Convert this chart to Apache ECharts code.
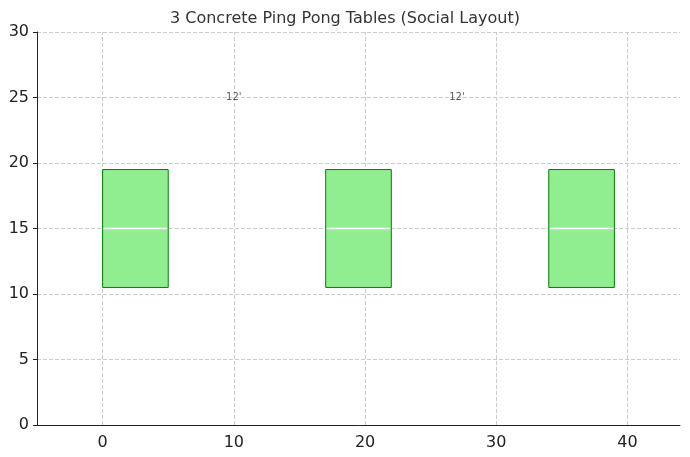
<!DOCTYPE html>
<html><head><meta charset="utf-8">
<script src="https://cdn.jsdelivr.net/npm/echarts@6/dist/echarts.min.js"></script>
<style>html,body{margin:0;padding:0;background:#fff}#c{width:690px;height:457px}</style>
</head><body><div id="c"></div>
<script>
const tableX = [0, 17, 34];
const tableWidth = 5;
const tableYMin = 10.5;
const tableYMax = 19.5;
const netY = 15;
const labels = ["12'", "12'"];
const labelX = [10, 27];
const labelY = [25, 25];
const xTicks = [0, 10, 20, 30, 40];

const chart = echarts.init(document.getElementById('c'));
const tableData = tableX.map(x => [x, x + tableWidth, tableYMin, tableYMax, netY]);
const font = 'DejaVu Sans';
chart.setOption({
  animation: false,
  title: {text: '3 Concrete Ping Pong Tables (Social Layout)', left: 'center', top: 6,
    textStyle: {fontFamily: font, fontSize: 16, fontWeight: 'normal', color: '#333'}},
  grid: {left: 37, right: 10, top: 32, bottom: 32},
  xAxis: {type: 'value', min: -5, max: 44, interval: 5,
    axisLine: {onZero: false, lineStyle: {color: '#222'}},
    axisTick: {show: false},
    axisLabel: {fontFamily: font, fontSize: 16, color: '#222', margin: 10,
      formatter: v => xTicks.includes(v) ? String(v) : ''},
    splitLine: {show: false}},
  yAxis: {type: 'value', min: 0, max: 30, interval: 5,
    axisLine: {show: true, onZero: false, lineStyle: {color: '#222'}},
    axisTick: {show: true, length: 4, lineStyle: {color: '#222'}},
    axisLabel: {fontFamily: font, fontSize: 16, color: '#222'},
    splitLine: {lineStyle: {type: 'dashed', color: '#ccc'}}},
  series: [
    {type: 'line', data: [], silent: true, z: 1,
     markLine: {symbol: 'none', silent: true, label: {show: false},
       lineStyle: {type: 'dashed', color: '#ccc', width: 1},
       data: xTicks.map(x => ({xAxis: x}))}},
    {type: 'line', data: [], silent: true, z: 1,
     markLine: {symbol: 'none', silent: true, label: {show: false},
       lineStyle: {type: 'solid', color: '#222', width: 1},
       data: xTicks.map(x => [{coord: [x, 0]}, {coord: [x, -0.3]}])}},
    {type: 'custom', data: tableData, z: 5,
     renderItem: (params, api) => {
       const p1 = api.coord([api.value(0), api.value(3)]);
       const p2 = api.coord([api.value(1), api.value(2)]);
       const n1 = api.coord([api.value(0), api.value(4)]);
       const n2 = api.coord([api.value(1), api.value(4)]);
       return {type: 'group', children: [
         {type: 'rect', shape: {x: p1[0], y: p1[1], width: p2[0]-p1[0], height: p2[1]-p1[1]},
          style: {fill: '#90ee90', stroke: '#008000', lineWidth: 1}},
         {type: 'line', shape: {x1: n1[0]+1, y1: n1[1], x2: n2[0]-1, y2: n2[1]},
          style: {stroke: '#fff', lineWidth: 1.5}}
       ]};
     }},
    {type: 'scatter', symbolSize: 0, z: 6, data: labelX.map((x, i) => [x, labelY[i], labels[i]]),
     label: {show: true, position: 'inside', formatter: p => p.data[2],
       fontFamily: font, fontSize: 10, color: '#333'}}
  ]
});
</script></body></html>
